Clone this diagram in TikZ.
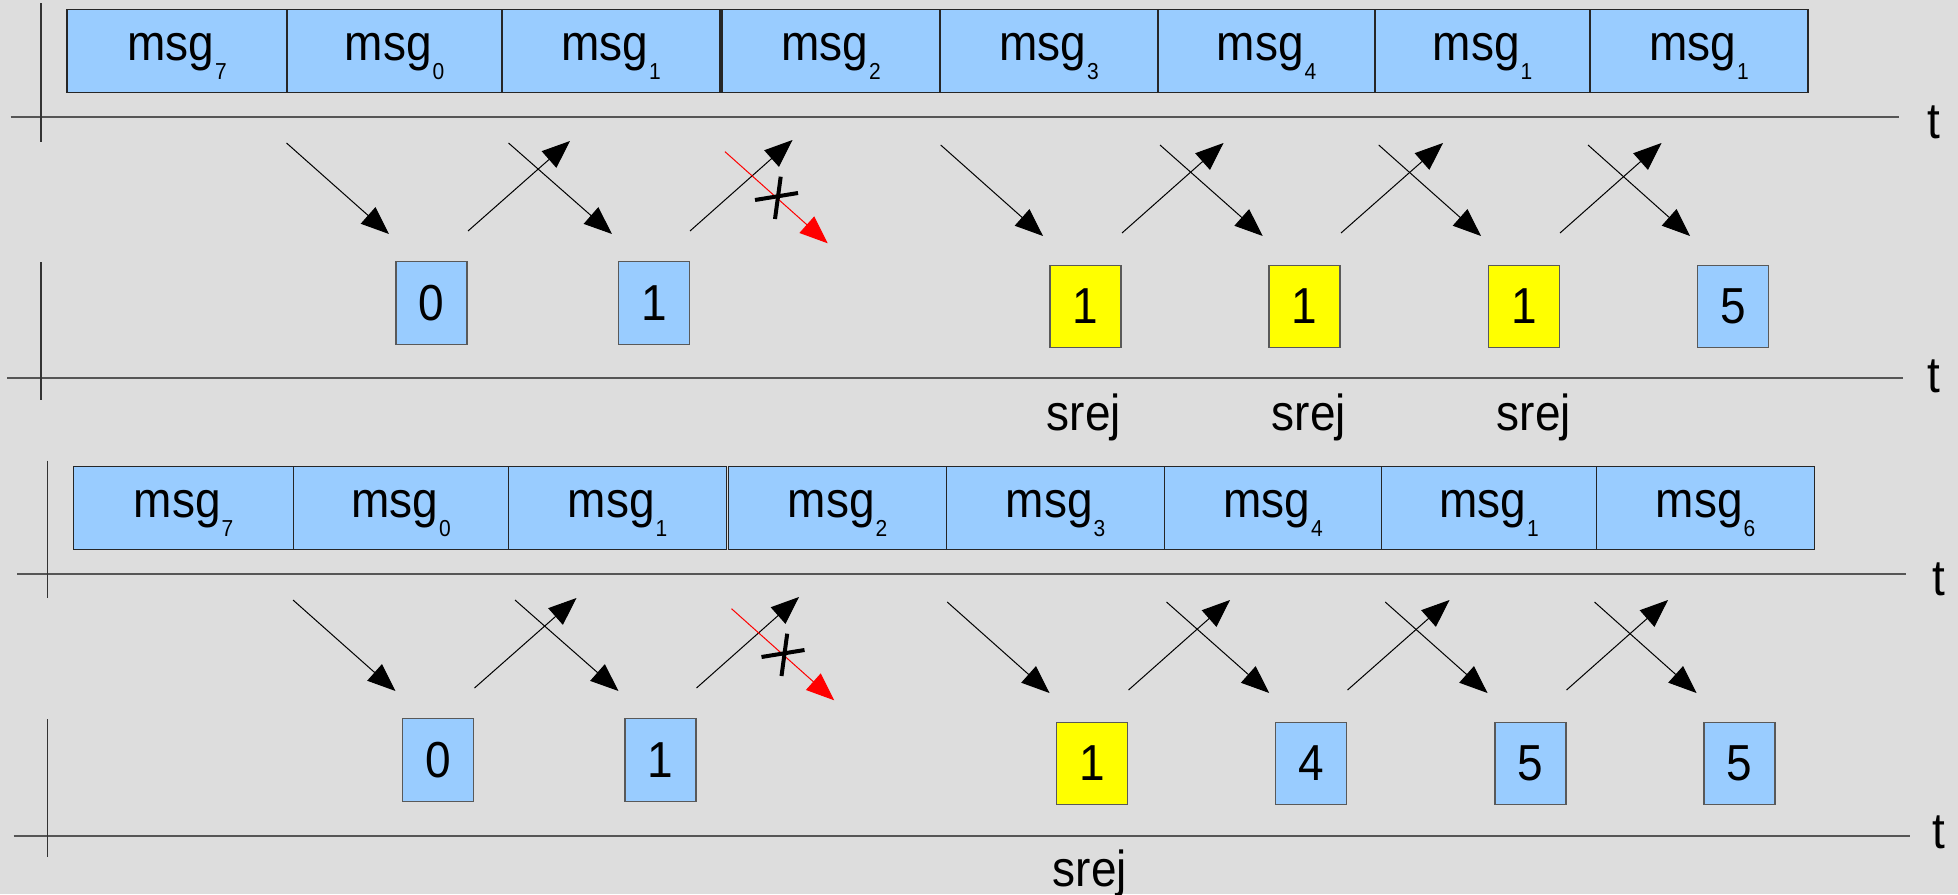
\documentclass[tikz,border=0pt]{standalone}
\usepackage{graphicx}
\usepackage{fontspec}
\setmainfont{Liberation Sans}
\usetikzlibrary{arrows.meta}
\definecolor{bgc}{HTML}{DDDDDD}
\definecolor{cellblue}{HTML}{99CCFF}
\definecolor{cellyellow}{HTML}{FFFF00}
\definecolor{axisgray}{HTML}{555555}
\newcommand{\tallx}[1]{\scalebox{1}[1.1]{#1}}
\newcommand{\msgsub}[1]{\tallx{msg}\kern1pt\raisebox{-19pt}{\tallx{\fontsize{21}{21}\selectfont #1}}}
\begin{document}
\begin{tikzpicture}[x=1pt,y=-1pt,
  font=\fontsize{46}{55}\selectfont,
  cell/.style={draw=black!85, line width=1.2pt, fill=cellblue, minimum height=83pt,
    inner sep=0pt, text height=30pt, text depth=10pt},
  numbox/.style={draw=black!65, line width=1.2pt, minimum width=71pt, minimum height=82.5pt,
    inner sep=0pt},
  bluebox/.style={numbox, fill=cellblue},
  yellowbox/.style={numbox, fill=cellyellow},
  axisline/.style={draw=axisgray, line width=2pt},
  vline/.style={draw=black!80, line width=1.2pt},
  msgarrow/.style={draw=black, line width=1pt, -{Triangle[length=28pt,width=22pt]}},
  lostarrow/.style={draw=red, line width=1pt, -{Triangle[length=28pt,width=22pt]}},
  xmark/.style={draw=black, line width=4pt},
  tlabel/.style={anchor=base, inner sep=0pt},
  srejlabel/.style={anchor=base, inner sep=0pt},
]
\fill[bgc] (0,0) rectangle (1958,894);
\useasboundingbox (0,0) rectangle (1958,894);

% ---------------- section 1 ----------------
\begin{scope}
\foreach \l/\r/\s [count=\i] in {67/287/7, 287/502/0, 502/720/1, 722/940/2, 940/1158/3, 1158/1375/4, 1375/1590/1, 1590/1808/1}
  \node[cell, minimum width={\r-\l}] (a-c\i) at ({(\l+\r)/2},50.8) {\msgsub{\s}};
\coordinate (a-ax1l) at (10.7,116.7); \coordinate (a-ax1r) at (1899,116.7);
\coordinate (a-ax2l) at (7,378);      \coordinate (a-ax2r) at (1903,378);
\coordinate (a-v1t) at (41,3);   \coordinate (a-v1b) at (41,142);
\coordinate (a-v2t) at (41,262); \coordinate (a-v2b) at (41,400);
\draw[axisline] (a-ax1l) -- (a-ax1r);
\draw[axisline] (a-ax2l) -- (a-ax2r);
\draw[vline] (a-v1t) -- (a-v1b);
\draw[vline] (a-v2t) -- (a-v2b);
\node[tlabel] (a-t1) at (1934,138) {\tallx{t}};
\node[tlabel] (a-t2) at (1934,392) {\tallx{t}};
\node[bluebox] (a-b1) at (431.5,303) {\tallx{0}};
\node[bluebox] (a-b2) at (654,303) {\tallx{1}};
\node[yellowbox] (a-b3) at (1085.5,306.5) {\tallx{1}};
\node[yellowbox] (a-b4) at (1304.5,306.5) {\tallx{1}};
\node[yellowbox] (a-b5) at (1524,306.5) {\tallx{1}};
\node[bluebox] (a-b6) at (1733,306.5) {\tallx{5}};
\node[srejlabel] (a-s1) at (1084,430) {\tallx{srej}};
\node[srejlabel] (a-s2) at (1309,430) {\tallx{srej}};
\node[srejlabel] (a-s3) at (1534,430) {\tallx{srej}};
\foreach \x/\y/\u/\v [count=\i] in {286.5/143/389/234, 508.5/143/612/234, 940.7/145/1043/236, 1160/145/1262.7/236, 1378.7/145/1481/236, 1588/145/1690/236}{
  \coordinate (a-ds\i) at (\x,\y); \coordinate (a-de\i) at (\u,\v);
  \draw[msgarrow] (a-ds\i) -- (a-de\i);
}
\foreach \x/\y/\u/\v [count=\i] in {468/231/570/141, 690/231/792.5/140, 1122/233/1223.5/143, 1341/233/1443/143, 1560/233/1661.5/143}{
  \coordinate (a-us\i) at (\x,\y); \coordinate (a-ue\i) at (\u,\v);
  \draw[msgarrow] (a-us\i) -- (a-ue\i);
}
\coordinate (a-rs) at (725,151.7); \coordinate (a-re) at (827.7,243.3);
\draw[lostarrow] (a-rs) -- (a-re);
\coordinate (a-x1a) at (755,200); \coordinate (a-x1b) at (798,193);
\coordinate (a-x2a) at (780.7,176.7); \coordinate (a-x2b) at (775,219);
\draw[xmark] (a-x1a) -- (a-x1b);
\draw[xmark] (a-x2a) -- (a-x2b);
\end{scope}

% ---------------- section 2 ----------------
\begin{scope}[shift={(6.5,457)}]
\foreach \l/\r/\s [count=\i] in {67/287/7, 287/502/0, 502/720/1, 722/940/2, 940/1158/3, 1158/1375/4, 1375/1590/1, 1590/1808/6}
  \node[cell, minimum width={\r-\l}] (b-c\i) at ({(\l+\r)/2},50.8) {\msgsub{\s}};
\coordinate (b-ax1l) at (10.7,116.7); \coordinate (b-ax1r) at (1899,116.7);
\coordinate (b-ax2l) at (7,378.7);    \coordinate (b-ax2r) at (1903,378.7);
\coordinate (b-v1t) at (41,3.7);   \coordinate (b-v1b) at (41,141);
\coordinate (b-v2t) at (41,262); \coordinate (b-v2b) at (41,399.7);
\draw[axisline] (b-ax1l) -- (b-ax1r);
\draw[axisline] (b-ax2l) -- (b-ax2r);
\draw[vline] (b-v1t) -- (b-v1b);
\draw[vline] (b-v2t) -- (b-v2b);
\node[tlabel] (b-t1) at (1932.5,138) {\tallx{t}};
\node[tlabel] (b-t2) at (1932.5,391) {\tallx{t}};
\node[bluebox] (b-b1) at (431.5,303) {\tallx{0}};
\node[bluebox] (b-b2) at (654,303) {\tallx{1}};
\node[yellowbox] (b-b3) at (1085.5,306.5) {\tallx{1}};
\node[bluebox] (b-b4) at (1304.5,306.5) {\tallx{4}};
\node[bluebox] (b-b5) at (1524,306.5) {\tallx{5}};
\node[bluebox] (b-b6) at (1733,306.5) {\tallx{5}};
\node[srejlabel] (b-s1) at (1083.5,429) {\tallx{srej}};
\foreach \x/\y/\u/\v [count=\i] in {286.5/143/389/234, 508.5/143/612/234, 940.7/145/1043/236, 1160/145/1262.7/236, 1378.7/145/1481/236, 1588/145/1690/236}{
  \coordinate (b-ds\i) at (\x,\y); \coordinate (b-de\i) at (\u,\v);
  \draw[msgarrow] (b-ds\i) -- (b-de\i);
}
\foreach \x/\y/\u/\v [count=\i] in {468/231/570/141, 690/231/792.5/140, 1122/233/1223.5/143, 1341/233/1443/143, 1560/233/1661.5/143}{
  \coordinate (b-us\i) at (\x,\y); \coordinate (b-ue\i) at (\u,\v);
  \draw[msgarrow] (b-us\i) -- (b-ue\i);
}
\coordinate (b-rs) at (725,151.7); \coordinate (b-re) at (827.7,243.3);
\draw[lostarrow] (b-rs) -- (b-re);
\coordinate (b-x1a) at (755,200); \coordinate (b-x1b) at (798,193);
\coordinate (b-x2a) at (780.7,176.7); \coordinate (b-x2b) at (775,219);
\draw[xmark] (b-x1a) -- (b-x1b);
\draw[xmark] (b-x2a) -- (b-x2b);
\end{scope}
\end{tikzpicture}
\end{document}
